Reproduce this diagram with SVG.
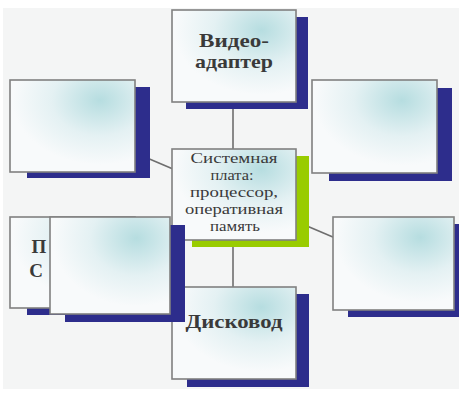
<svg xmlns="http://www.w3.org/2000/svg" width="459" height="396" viewBox="0 0 459 396">
<defs>
<radialGradient id="g" cx="0.72" cy="0.22" r="0.7">
<stop offset="0" stop-color="#b6dde0"/>
<stop offset="0.55" stop-color="#e4f1f3"/>
<stop offset="1" stop-color="#f8fafb"/>
</radialGradient>
</defs>
<style>
.box{fill:url(#g);stroke:#808080;stroke-width:1.6}
.sh{fill:#2d2d8c}
.gr{fill:#99cc00}
.con{stroke:#6e6e6e;stroke-width:1.6;fill:none}
.t{font-family:"Liberation Serif","DejaVu Serif",serif;fill:#3a3a3a;text-anchor:middle}
.b{font-weight:bold;font-size:19px}
.r{font-size:15px}
</style>
<rect x="0" y="0" width="459" height="396" fill="#ffffff"/>
<rect x="3" y="8" width="456" height="381" fill="#f4f5f5"/>
<g id="connectors">
<line class="con" x1="233" y1="102" x2="233" y2="149"/>
<line class="con" x1="233" y1="240" x2="233" y2="288"/>
<line class="con" x1="234" y1="195" x2="72" y2="126"/>
<line class="con" x1="234" y1="195" x2="394" y2="263"/>
</g>
<g id="video">
<rect class="sh" x="186" y="17" width="122" height="92"/>
<rect class="box" x="172" y="10" width="124" height="92"/>
<text class="t b" x="234" y="47" textLength="70" lengthAdjust="spacingAndGlyphs">Видео-</text>
<text class="t b" x="234" y="68" textLength="78" lengthAdjust="spacingAndGlyphs">адаптер</text>
</g>
<g id="left-top">
<rect class="sh" x="27" y="87" width="123" height="91"/>
<rect class="box" x="10" y="80" width="125" height="92"/>
</g>
<g id="right-top">
<rect class="sh" x="329" y="88" width="123" height="93"/>
<rect class="box" x="312" y="80" width="125" height="93"/>
</g>
<g id="disk">
<rect class="sh" x="187" y="294" width="122" height="93"/>
<rect class="box" x="172" y="287" width="124" height="92"/>
<text class="t b" x="234" y="328" textLength="97" lengthAdjust="spacingAndGlyphs">Дисковод</text>
</g>
<g id="center">
<rect class="gr" x="192" y="156" width="117" height="91"/>
<rect class="box" x="172" y="149" width="124" height="91"/>
<text class="t r" x="234" y="163" textLength="87" lengthAdjust="spacingAndGlyphs">Системная</text>
<text class="t r" x="232" y="180" textLength="43" lengthAdjust="spacingAndGlyphs">плата:</text>
<text class="t r" x="234" y="197" textLength="88" lengthAdjust="spacingAndGlyphs">процессор,</text>
<text class="t r" x="234" y="214" textLength="98" lengthAdjust="spacingAndGlyphs">оперативная</text>
<text class="t r" x="235" y="231" textLength="50" lengthAdjust="spacingAndGlyphs">память</text>
</g>
<g id="right-bottom">
<rect class="sh" x="348" y="224" width="121" height="93"/>
<rect class="box" x="333" y="217" width="121" height="93"/>
</g>
<g id="left-back">
<rect class="sh" x="27" y="224" width="123" height="91"/>
<rect class="box" x="10" y="217" width="125" height="91"/>
<text class="t b" x="39" y="253">П</text>
<text class="t b" x="36" y="277">С</text>
</g>
<g id="left-front">
<rect class="sh" x="65" y="225" width="120" height="97"/>
<rect class="box" x="50" y="217" width="120" height="97"/>
</g>
</svg>
